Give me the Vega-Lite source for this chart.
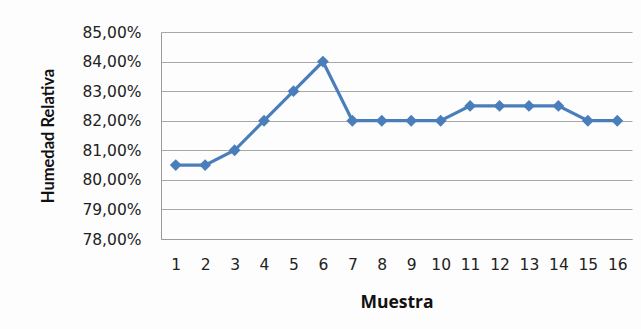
{
  "$schema": "https://vega.github.io/schema/vega-lite/v6.json",
  "autosize": "none",
  "width": 471,
  "height": 207,
  "padding": {"left": 161, "top": 32, "right": 9, "bottom": 90},
  "background": "#fdfdfd",
  "data": {
    "values": [
      {"muestra": 1, "humedad": 0.805},
      {"muestra": 2, "humedad": 0.805},
      {"muestra": 3, "humedad": 0.81},
      {"muestra": 4, "humedad": 0.82},
      {"muestra": 5, "humedad": 0.83},
      {"muestra": 6, "humedad": 0.84},
      {"muestra": 7, "humedad": 0.82},
      {"muestra": 8, "humedad": 0.82},
      {"muestra": 9, "humedad": 0.82},
      {"muestra": 10, "humedad": 0.82},
      {"muestra": 11, "humedad": 0.825},
      {"muestra": 12, "humedad": 0.825},
      {"muestra": 13, "humedad": 0.825},
      {"muestra": 14, "humedad": 0.825},
      {"muestra": 15, "humedad": 0.82},
      {"muestra": 16, "humedad": 0.82}
    ]
  },
  "encoding": {
    "x": {
      "field": "muestra",
      "type": "ordinal",
      "scale": {"type": "point", "padding": 0.5},
      "axis": {
        "title": "Muestra",
        "labelAngle": 0,
        "ticks": false,
        "domain": true,
        "domainColor": "#9a9a9a",
        "grid": false,
        "labelPadding": 18,
        "labelFont": "DejaVu Sans",
        "labelFontSize": 15.5,
        "labelColor": "#222222",
        "titleFont": "Open Sans",
        "titleFontSize": 17.5,
        "titleFontWeight": "bold",
        "titleColor": "#111111",
        "titlePadding": 21
      }
    },
    "y": {
      "field": "humedad",
      "type": "quantitative",
      "scale": {"domain": [0.78, 0.85], "nice": false, "zero": false},
      "axis": {
        "title": "Humedad Relativa",
        "values": [0.78, 0.79, 0.8, 0.81, 0.82, 0.83, 0.84, 0.85],
        "labelExpr": "replace(format(datum.value, '.2%'), '.', ',')",
        "ticks": false,
        "domain": true,
        "domainColor": "#9a9a9a",
        "grid": true,
        "gridColor": "#a8a8a8",
        "gridWidth": 1,
        "labelPadding": 20,
        "labelFont": "DejaVu Sans",
        "labelFontSize": 15.5,
        "labelColor": "#222222",
        "titleFont": "Lato",
        "titleFontSize": 16.5,
        "titleFontWeight": "bold",
        "titleColor": "#111111",
        "titlePadding": 25
      }
    }
  },
  "layer": [
    {
      "mark": {"type": "line", "color": "#4a7ebb", "strokeWidth": 3.2}
    },
    {
      "mark": {"type": "point", "shape": "diamond", "filled": true, "color": "#4a7ebb", "size": 140, "opacity": 1}
    }
  ],
  "config": {
    "view": {"stroke": null}
  }
}
